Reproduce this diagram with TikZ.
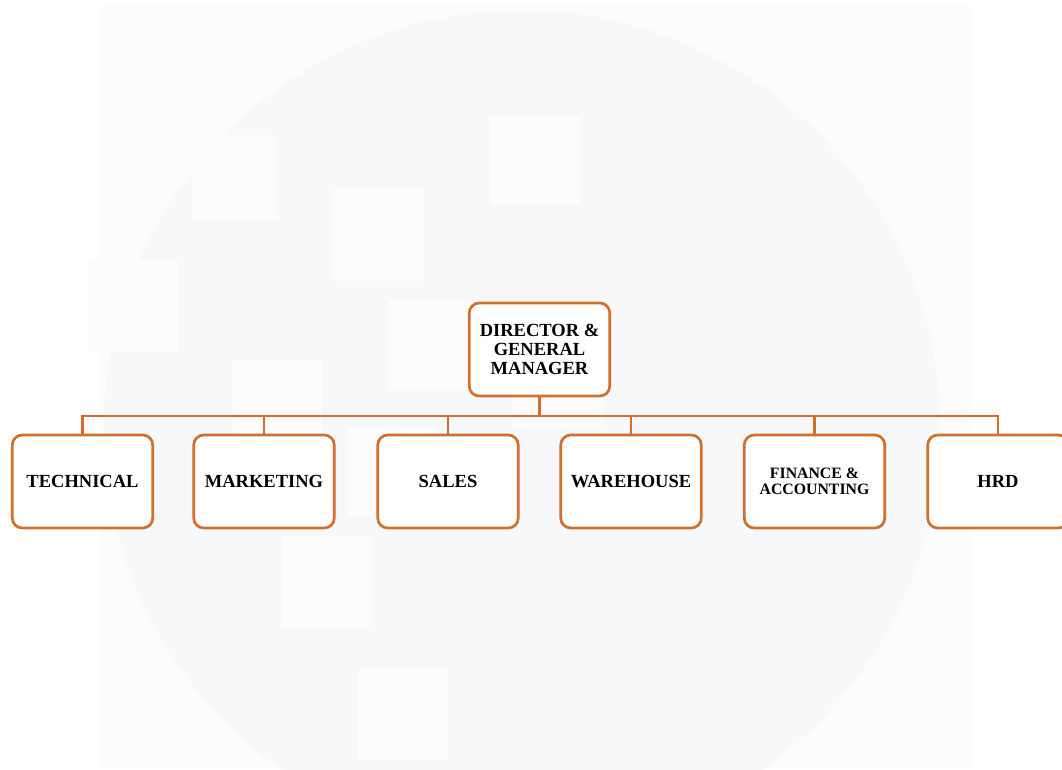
\documentclass[tikz,border=0pt]{standalone}
\usepackage{fontspec}
\setmainfont{Liberation Serif}
\usetikzlibrary{backgrounds}
\definecolor{org}{RGB}{212,110,44}
\definecolor{bgrect}{RGB}{252,252,252}
\definecolor{bgcirc}{RGB}{247,248,250}
\begin{document}
\begin{tikzpicture}[x=1pt,y=-1pt,
  box/.style={draw=org, line width=2.7pt, rounded corners=10pt, fill=white,
    minimum width=140.5pt, minimum height=93pt, align=center, inner sep=0pt,
    font=\bfseries\fontsize{18.5}{19}\selectfont},
  smalltext/.style={font=\bfseries\fontsize{15.8}{16}\selectfont},
  conn/.style={draw=org, line width=2.9pt},
  sq/.style={fill=bgrect}]
\useasboundingbox (0,0) rectangle (1062,769);
\clip (0,0) rectangle (1062,769);
% nodes
\node[box] (dir) at (539.5,349.5) {DIRECTOR \&\\GENERAL\\MANAGER};
\node[box] (tech) at (82.5,481.5) {TECHNICAL};
\node[box] (mkt) at (264,481.5) {MARKETING};
\node[box] (sales) at (448,481.5) {SALES};
\node[box] (wh) at (631,481.5) {WAREHOUSE};
\node[box,smalltext] (fin) at (814.5,481.5) {FINANCE \&\\ACCOUNTING};
\node[box] (hrd) at (998,481.5) {HRD};
\coordinate (bus) at (539.5,416);
\begin{scope}[on background layer]
  % background watermark
  \fill[bgrect] (100,5) rectangle (970,769);
  \fill[bgcirc] (522,428) circle (418pt);
  \fill[sq] (193,135) rectangle (277,219);
  \fill[sq] (333,190) rectangle (423,281);
  \fill[sq] (490,117) rectangle (580,205);
  \fill[sq] (88,260) rectangle (178,351);
  \fill[sq] (389,300) rectangle (479,390);
  \fill[sq] (233,360) rectangle (322,450);
  \fill[sq] (513,337) rectangle (603,427);
  \fill[sq] (348,427) rectangle (438,517);
  \fill[sq] (282,537) rectangle (371,627);
  \fill[sq] (358,670) rectangle (448,760);
  % connectors
  \draw[conn] (dir.center) -- (bus);
  \foreach \n in {tech,mkt,sales,wh,fin,hrd}{
    \draw[conn] (bus) -| (\n.center);
  }
\end{scope}
\end{tikzpicture}
\end{document}
